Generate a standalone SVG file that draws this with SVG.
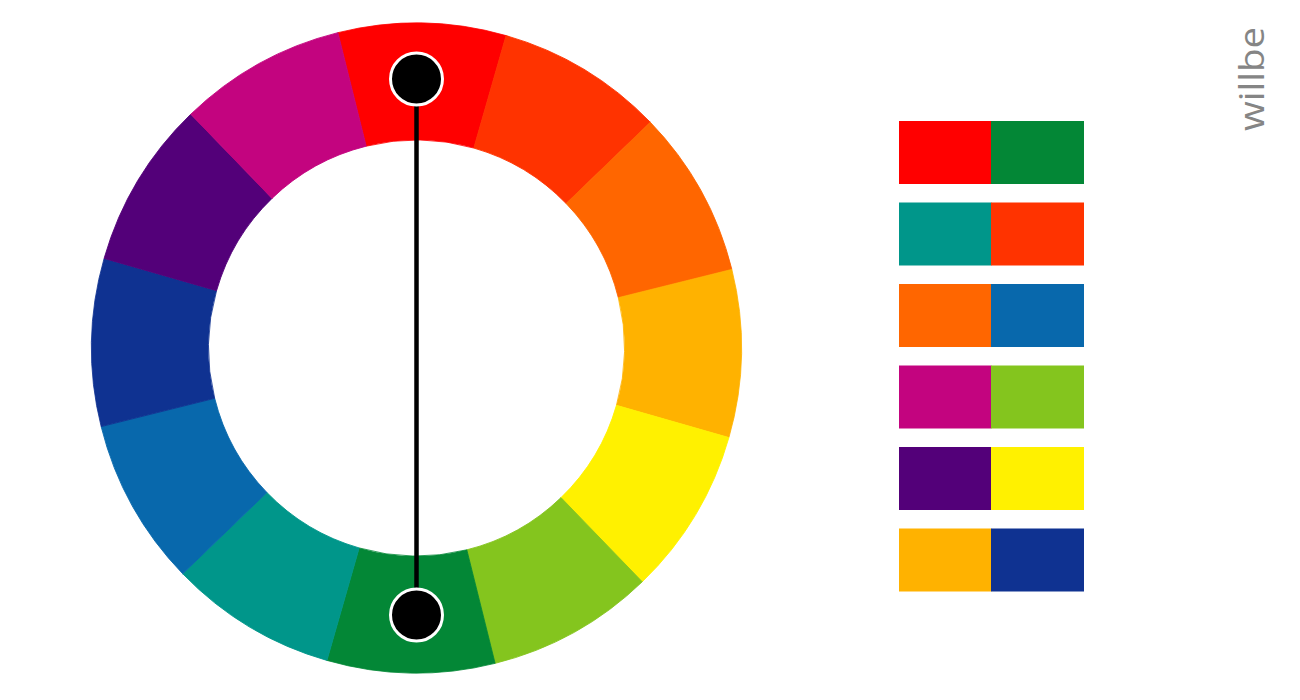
<svg xmlns="http://www.w3.org/2000/svg" xmlns:xlink="http://www.w3.org/1999/xlink" width="1300" height="700" viewBox="0 0 1300 700">
<style>
.seg{stroke-width:0.8}
.dot{fill:#000;stroke:#fff;stroke-width:3}
.conn{stroke:#000;stroke-width:4.5;fill:none}
.logo{font-family:"Open Sans","Liberation Sans",sans-serif;font-weight:400;font-size:34px;fill:#858585}
</style>
<defs>
<path id="segShape" d="M -84.116 -313.926 A 325 325 0 0 1 84.116 -313.926 L 53.834 -200.913 A 208 208 0 0 0 -53.834 -200.913 Z"/>
</defs>
<rect width="1300" height="700" fill="#fff"/>
<g id="wheel">
<use id="seg-red" class="seg" xlink:href="#segShape" href="#segShape" fill="#FF0000" stroke="#FF0000" transform="translate(416.5 348) rotate(1)"/>
<use id="seg-red-orange" class="seg" xlink:href="#segShape" href="#segShape" fill="#FF3300" stroke="#FF3300" transform="translate(416.5 348) rotate(31)"/>
<use id="seg-orange" class="seg" xlink:href="#segShape" href="#segShape" fill="#FF6600" stroke="#FF6600" transform="translate(416.5 348) rotate(61)"/>
<use id="seg-yellow-orange" class="seg" xlink:href="#segShape" href="#segShape" fill="#FFB200" stroke="#FFB200" transform="translate(416.5 348) rotate(91)"/>
<use id="seg-yellow" class="seg" xlink:href="#segShape" href="#segShape" fill="#FFF100" stroke="#FFF100" transform="translate(416.5 348) rotate(121)"/>
<use id="seg-yellow-green" class="seg" xlink:href="#segShape" href="#segShape" fill="#84C51E" stroke="#84C51E" transform="translate(416.5 348) rotate(151)"/>
<use id="seg-green" class="seg" xlink:href="#segShape" href="#segShape" fill="#038736" stroke="#038736" transform="translate(416.5 348) rotate(181)"/>
<use id="seg-teal" class="seg" xlink:href="#segShape" href="#segShape" fill="#00968A" stroke="#00968A" transform="translate(416.5 348) rotate(211)"/>
<use id="seg-blue" class="seg" xlink:href="#segShape" href="#segShape" fill="#0868AC" stroke="#0868AC" transform="translate(416.5 348) rotate(241)"/>
<use id="seg-indigo" class="seg" xlink:href="#segShape" href="#segShape" fill="#0F3291" stroke="#0F3291" transform="translate(416.5 348) rotate(271)"/>
<use id="seg-violet" class="seg" xlink:href="#segShape" href="#segShape" fill="#530079" stroke="#530079" transform="translate(416.5 348) rotate(301)"/>
<use id="seg-magenta" class="seg" xlink:href="#segShape" href="#segShape" fill="#C3047F" stroke="#C3047F" transform="translate(416.5 348) rotate(331)"/>
</g>
<g id="connectors">
<line class="conn" x1="416.5" y1="79" x2="416.5" y2="615"/>
</g>
<g id="node-top"><circle class="dot" cx="416.5" cy="79" r="26"/></g>
<g id="node-bottom"><circle class="dot" cx="416.5" cy="615" r="26"/></g>
<g id="swatches">
<g id="pair1"><rect x="899" y="121" width="92.5" height="63" fill="#FF0000"/><rect x="991" y="121" width="93" height="63" fill="#038736"/></g>
<g id="pair2"><rect x="899" y="202.5" width="92.5" height="63" fill="#00968A"/><rect x="991" y="202.5" width="93" height="63" fill="#FF3300"/></g>
<g id="pair3"><rect x="899" y="284" width="92.5" height="63" fill="#FF6600"/><rect x="991" y="284" width="93" height="63" fill="#0868AC"/></g>
<g id="pair4"><rect x="899" y="365.5" width="92.5" height="63" fill="#C3047F"/><rect x="991" y="365.5" width="93" height="63" fill="#84C51E"/></g>
<g id="pair5"><rect x="899" y="447" width="92.5" height="63" fill="#530079"/><rect x="991" y="447" width="93" height="63" fill="#FFF100"/></g>
<g id="pair6"><rect x="899" y="528.5" width="92.5" height="63" fill="#FFB200"/><rect x="991" y="528.5" width="93" height="63" fill="#0F3291"/></g>
</g>
<g id="logo">
<text class="logo" transform="translate(1264 131) rotate(-90)" textLength="104" lengthAdjust="spacingAndGlyphs">willbe</text>
</g>
</svg>
